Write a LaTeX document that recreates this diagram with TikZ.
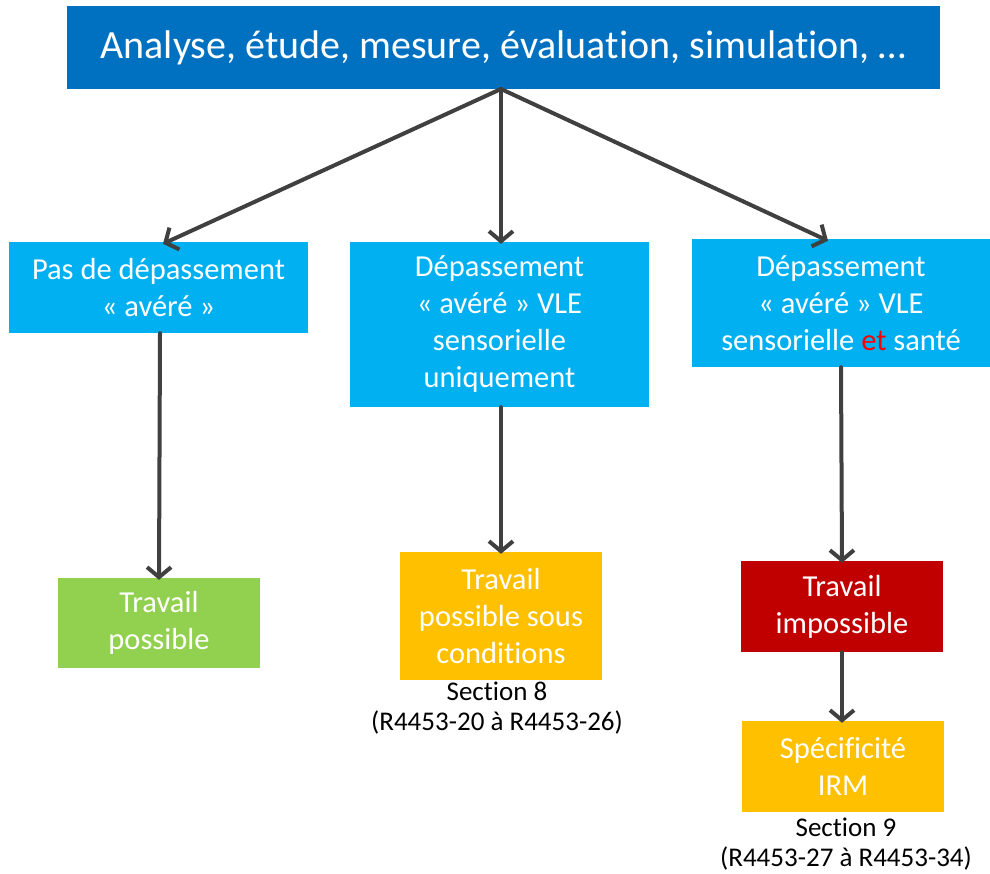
\documentclass[tikz,border=0pt]{standalone}
\usepackage{fontspec}
\setmainfont[Ligatures={NoCommon,NoRequired,NoContextual}]{Carlito}
\usetikzlibrary{arrows.meta}
\newcommand\nolti{t\kern0pt i}
\definecolor{topblue}{HTML}{0070C0}
\definecolor{lblue}{HTML}{00B0F0}
\definecolor{lgreen}{HTML}{92D050}
\definecolor{orangey}{HTML}{FFC000}
\definecolor{dred}{HTML}{C00000}
\definecolor{arrowgray}{HTML}{404040}
\definecolor{etred}{HTML}{FF0000}
\tikzset{
  box/.style={rectangle, inner sep=0pt, text=white, align=center,
    font=\fontsize{30.5}{37}\selectfont},
  conn/.style={draw=arrowgray, line width=4pt, line cap=round,
    -{Straight Barb[length=10pt,width=24pt,line width=4pt]}},
  note/.style={align=center, text=black, font=\fontsize{27}{30}\selectfont}
}
\begin{document}
\begin{tikzpicture}[x=1pt,y=-1pt]
\useasboundingbox (0,0) rectangle (990,874);
\node[box, fill=topblue, minimum width=873pt, minimum height=83pt,
  font=\fontsize{40}{48}\selectfont] (top) at (503.5,47.5)
  {Analyse, étude, mesure, évalua\nolti on, simula\nolti on, …};
\node[box, fill=lblue, minimum width=299pt, minimum height=91pt] (b1) at (158.5,287.5)
  {Pas de dépassement\\« avéré »};
\node[box, fill=lblue, minimum width=299pt, minimum height=165pt] (b2) at (499.5,324.5)
  {Dépassement\\« avéré » VLE\\sensorielle\\uniquement};
\node[box, fill=lblue, minimum width=298pt, minimum height=128pt] (b3) at (841,303)
  {Dépassement\\« avéré » VLE\\sensorielle {\color{etred}et} santé};
\node[box, fill=lgreen, minimum width=202pt, minimum height=90pt] (g) at (159,623)
  {Travail\\possible};
\node[box, fill=orangey, minimum width=202pt, minimum height=128pt] (o1) at (501,616)
  {Travail\\possible sous\\condi\nolti ons};
\node[box, fill=dred, minimum width=202pt, minimum height=91pt] (r) at (842,606.5)
  {Travail\\impossible};
\node[box, fill=orangey, minimum width=202pt, minimum height=91pt] (irm) at (843,766.5)
  {Spécificité\\IRM};
\node[note] (s8) at (497,708) {Sec\nolti on 8\\(R4453-20 à R4453-26)};
\node[note] (s9) at (846,844) {Sec\nolti on 9\\(R4453-27 à R4453-34)};
\coordinate (o) at (501,89);
\draw[conn] (o) -- ([xshift=4.5pt,yshift=-2pt]b1.north);
\draw[conn] (o) -- ([xshift=1.5pt,yshift=-2pt]b2.north);
\draw[conn] (o) -- ([xshift=-13pt,yshift=-2pt]b3.north);
\draw[conn] ([xshift=1.5pt]b1.south) -- ([yshift=-2pt]g.north);
\draw[conn] ([xshift=1.5pt]b2.south) -- ([yshift=-2pt]o1.north);
\draw[conn] (b3.south) -- ([yshift=-2pt]r.north);
\draw[conn] (r.south) -- ([yshift=-2pt,xshift=-1pt]irm.north);
\end{tikzpicture}
\end{document}
